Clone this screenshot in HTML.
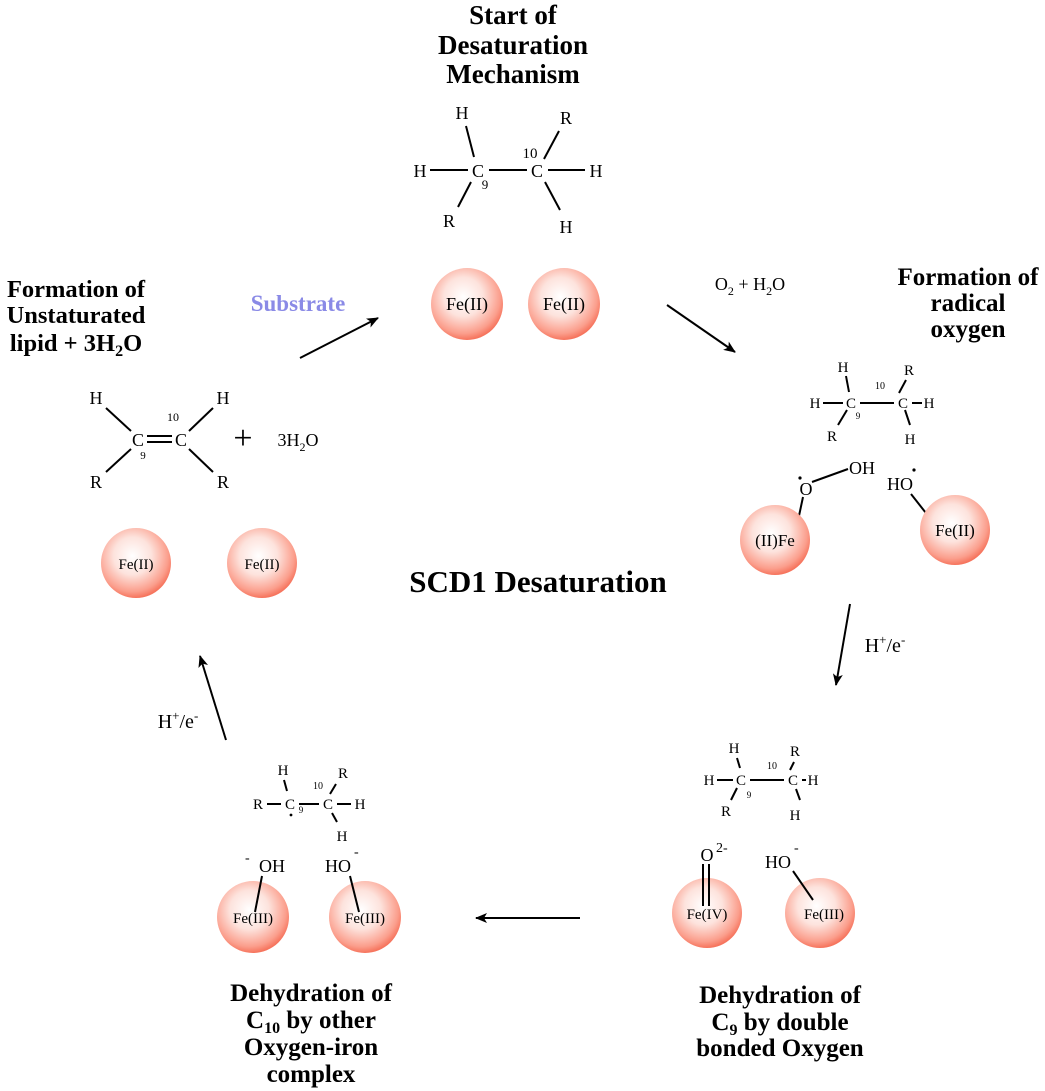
<!DOCTYPE html>
<html><head><meta charset="utf-8"><style>
html,body{margin:0;padding:0;background:#fff;}
svg{display:block;font-family:"Liberation Serif",serif;}
.t{font-weight:bold;text-anchor:middle;}
.a{font-size:18px;text-anchor:middle;}
.s{font-size:15px;text-anchor:middle;}
.n{text-anchor:middle;}
.f{text-anchor:middle;}
line{stroke:#000;stroke-width:2;}
</style></head><body>
<svg width="1045" height="1091" viewBox="0 0 1045 1091">
<defs>
<radialGradient id="g" cx="45%" cy="40%" r="60%">
<stop offset="0" stop-color="#fff"/><stop offset="0.45" stop-color="#fde3dd"/><stop offset="0.85" stop-color="#fb9e8c"/><stop offset="1" stop-color="#f6745d"/>
</radialGradient>
<marker id="m" markerWidth="12" markerHeight="10" refX="11" refY="5" orient="auto" markerUnits="userSpaceOnUse"><path d="M0,0 L12,5 L0,10 L3,5 z" fill="#000"/></marker>
</defs>

<!-- Top title -->
<text class="t" x="513" y="24" style="font-size:27px">Start of</text>
<text class="t" x="513" y="54" style="font-size:27px">Desaturation</text>
<text class="t" x="513" y="83" style="font-size:27px">Mechanism</text>

<!-- top molecule -->
<text class="a" x="478" y="177">C</text><text class="a" x="537" y="177">C</text>
<text class="a" x="420" y="177">H</text><text class="a" x="462" y="119">H</text>
<text class="a" x="449" y="227">R</text><text class="a" x="566" y="124">R</text>
<text class="a" x="596" y="177">H</text><text class="a" x="566" y="233">H</text>
<text class="n" x="485" y="189" style="font-size:13px">9</text><text class="n" x="530" y="158" style="font-size:15px">10</text>
<line x1="430" y1="170" x2="468" y2="170"/><line x1="489" y1="170" x2="527" y2="170"/>
<line x1="548" y1="170" x2="585" y2="170"/>
<line x1="466" y1="126" x2="474" y2="157"/><line x1="471" y1="182" x2="458" y2="207"/>
<line x1="544" y1="159" x2="559" y2="131"/><line x1="545" y1="182" x2="560" y2="210"/>
<circle cx="467" cy="304" r="36" fill="url(#g)"/><text class="f" x="467" y="310" style="font-size:18px">Fe(II)</text>
<circle cx="564" cy="304" r="36" fill="url(#g)"/><text class="f" x="564" y="310" style="font-size:18px">Fe(II)</text>

<!-- arrows -->
<line x1="300" y1="358" x2="378" y2="318" marker-end="url(#m)"/>
<text class="t" x="298" y="311" fill="#8a8ae6" style="font-size:23px">Substrate</text>
<line x1="667" y1="305" x2="735" y2="352" marker-end="url(#m)"/>
<text class="a" x="750" y="290">O<tspan style="font-size:12px" dy="5">2</tspan><tspan dy="-5"> + H</tspan><tspan style="font-size:12px" dy="5">2</tspan><tspan dy="-5">O</tspan></text>

<!-- right title -->
<text class="t" x="968" y="285" style="font-size:25px">Formation of</text>
<text class="t" x="968" y="311" style="font-size:25px">radical</text>
<text class="t" x="968" y="337" style="font-size:25px">oxygen</text>

<!-- right molecule -->
<text class="s" x="851" y="408">C</text><text class="s" x="903" y="408">C</text>
<text class="s" x="815" y="408">H</text><text class="s" x="843" y="372">H</text>
<text class="s" x="832" y="441">R</text><text class="s" x="909" y="375">R</text>
<text class="s" x="929" y="408">H</text><text class="s" x="910" y="444">H</text>
<text class="n" x="858" y="419" style="font-size:9px">9</text><text class="n" x="880" y="389" style="font-size:10px">10</text>
<line x1="823" y1="403" x2="843" y2="403"/><line x1="860" y1="403" x2="894" y2="403"/><line x1="912" y1="403" x2="922" y2="403"/>
<line x1="846" y1="376" x2="849" y2="392"/><line x1="847" y1="410" x2="838" y2="425"/>
<line x1="899" y1="393" x2="906" y2="380"/><line x1="905" y1="410" x2="910" y2="425"/>
<text class="a" x="806" y="495">O</text><circle cx="800" cy="478" r="1.6"/>
<text class="a" x="862" y="474">OH</text>
<line x1="812" y1="482" x2="848" y2="469"/>
<line x1="803" y1="497" x2="796" y2="530"/>
<circle cx="775" cy="540" r="35" fill="url(#g)"/><text class="f" x="775" y="546" style="font-size:17px">(II)Fe</text>
<text class="a" x="900" y="490">HO</text><circle cx="914" cy="470" r="1.6"/>
<line x1="911" y1="494" x2="933" y2="522"/>
<circle cx="955" cy="530" r="35" fill="url(#g)"/><text class="f" x="955" y="536" style="font-size:17px">Fe(II)</text>

<line x1="850" y1="604" x2="836" y2="685" marker-end="url(#m)"/>
<text class="a" x="885" y="652" style="font-size:20px">H<tspan style="font-size:13px" dy="-8">+</tspan><tspan dy="8">/e</tspan><tspan style="font-size:13px" dy="-8">-</tspan></text>

<!-- bottom right -->
<text class="s" x="741" y="785">C</text><text class="s" x="793" y="785">C</text>
<text class="s" x="709" y="785">H</text><text class="s" x="734" y="753">H</text>
<text class="s" x="726" y="816">R</text><text class="s" x="795" y="756">R</text>
<text class="s" x="813" y="785">H</text><text class="s" x="795" y="820">H</text>
<text class="n" x="749" y="798" style="font-size:9px">9</text><text class="n" x="772" y="769" style="font-size:10px">10</text>
<line x1="717" y1="780" x2="733" y2="780"/><line x1="750" y1="780" x2="784" y2="780"/><line x1="802" y1="780" x2="806" y2="780"/>
<line x1="737" y1="758" x2="740" y2="768"/><line x1="737" y1="788" x2="731" y2="800"/>
<line x1="790" y1="770" x2="794" y2="762"/><line x1="796" y1="789" x2="800" y2="800"/>
<circle cx="707" cy="913" r="35" fill="url(#g)"/><text class="f" x="707" y="919" style="font-size:15px">Fe(IV)</text>
<text class="a" x="707" y="861">O</text><text x="716" y="852" style="font-size:14px">2-</text>
<line x1="703" y1="864" x2="703" y2="906" stroke-width="1.7"/><line x1="709" y1="864" x2="709" y2="906" stroke-width="1.7"/>
<circle cx="820" cy="913" r="35" fill="url(#g)"/><text class="f" x="824" y="919" style="font-size:15px">Fe(III)</text>
<text class="a" x="778" y="868">HO</text><text x="794" y="852" style="font-size:14px">-</text>
<line x1="793" y1="871" x2="813" y2="900"/>
<text class="t" x="780" y="1003" style="font-size:25px">Dehydration of</text>
<text class="t" x="780" y="1030" style="font-size:25px">C<tspan style="font-size:16px" dy="5">9</tspan><tspan dy="-5"> by double</tspan></text>
<text class="t" x="780" y="1056" style="font-size:25px">bonded Oxygen</text>

<line x1="580" y1="918" x2="476" y2="918" marker-end="url(#m)"/>

<!-- bottom left -->
<text class="s" x="290" y="809">C</text><text class="s" x="328" y="809">C</text>
<text class="s" x="258" y="809">R</text><text class="s" x="283" y="775">H</text>
<text class="s" x="343" y="778">R</text><text class="s" x="360" y="809">H</text><text class="s" x="342" y="841">H</text>
<text class="n" x="301" y="813" style="font-size:9px">9</text><text class="n" x="318" y="789" style="font-size:10px">10</text>
<circle cx="291" cy="815" r="1.4"/>
<line x1="267" y1="804" x2="281" y2="804"/><line x1="299" y1="804" x2="319" y2="804"/><line x1="337" y1="804" x2="351" y2="804"/>
<line x1="284" y1="780" x2="287" y2="791"/><line x1="330" y1="794" x2="336" y2="784"/><line x1="332" y1="813" x2="337" y2="822"/>
<circle cx="253" cy="917" r="36" fill="url(#g)"/><text class="f" x="253" y="923" style="font-size:15px">Fe(III)</text>
<circle cx="365" cy="917" r="36" fill="url(#g)"/><text class="f" x="365" y="923" style="font-size:15px">Fe(III)</text>
<text class="a" x="272" y="872">OH</text><text x="245" y="862" style="font-size:14px">-</text>
<line x1="262" y1="876" x2="255" y2="912"/>
<text class="a" x="338" y="872">HO</text><text x="354" y="856" style="font-size:14px">-</text>
<line x1="350" y1="876" x2="359" y2="912"/>
<text class="t" x="311" y="1001" style="font-size:25px">Dehydration of</text>
<text class="t" x="311" y="1028" style="font-size:25px">C<tspan style="font-size:16px" dy="5">10</tspan><tspan dy="-5"> by other</tspan></text>
<text class="t" x="311" y="1055" style="font-size:25px">Oxygen-iron</text>
<text class="t" x="311" y="1082" style="font-size:25px">complex</text>

<line x1="226" y1="740" x2="200" y2="656" marker-end="url(#m)"/>
<text class="a" x="178" y="728" style="font-size:20px">H<tspan style="font-size:13px" dy="-8">+</tspan><tspan dy="8">/e</tspan><tspan style="font-size:13px" dy="-8">-</tspan></text>

<!-- left -->
<text class="t" x="76" y="297" style="font-size:24.5px">Formation of</text>
<text class="t" x="76" y="323" style="font-size:24.5px">Unstaturated</text>
<text class="t" x="76" y="351" style="font-size:24.5px">lipid + 3H<tspan style="font-size:16px" dy="5">2</tspan><tspan dy="-5">O</tspan></text>
<text class="a" x="138" y="446">C</text><text class="a" x="181" y="446">C</text>
<text class="a" x="96" y="404">H</text><text class="a" x="223" y="404">H</text>
<text class="a" x="96" y="488">R</text><text class="a" x="223" y="488">R</text>
<text class="n" x="143" y="459" style="font-size:11px">9</text><text class="n" x="173" y="421" style="font-size:12px">10</text>
<line x1="147" y1="436" x2="172" y2="436"/><line x1="147" y1="442" x2="172" y2="442"/>
<line x1="106" y1="408" x2="131" y2="431"/><line x1="213" y1="408" x2="189" y2="431"/>
<line x1="131" y1="449" x2="106" y2="472"/><line x1="189" y1="449" x2="213" y2="472"/>
<text x="243" y="449" style="font-size:34px" text-anchor="middle">+</text>
<text class="a" x="298" y="446">3H<tspan style="font-size:12px" dy="5">2</tspan><tspan dy="-5">O</tspan></text>
<circle cx="136" cy="563" r="35" fill="url(#g)"/><text class="f" x="136" y="569" style="font-size:15px">Fe(II)</text>
<circle cx="262" cy="563" r="35" fill="url(#g)"/><text class="f" x="262" y="569" style="font-size:15px">Fe(II)</text>

<text class="t" x="538" y="592" style="font-size:31px">SCD1 Desaturation</text>
</svg>
</body></html>
